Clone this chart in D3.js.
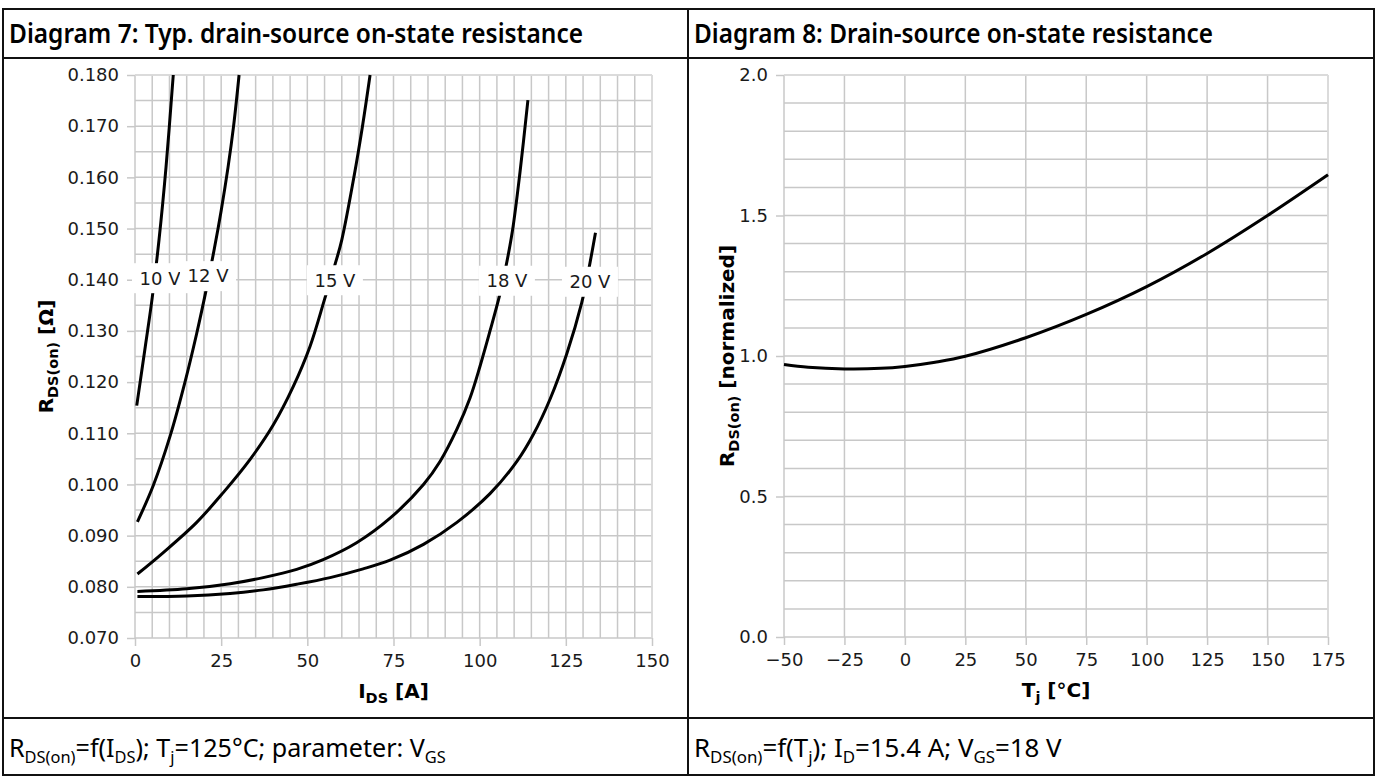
<!DOCTYPE html>
<html>
<head>
<meta charset="utf-8">
<script src="https://cdn.jsdelivr.net/npm/d3@7"></script>
<style>
  html, body { margin: 0; padding: 0; background: #fff; }
  svg { display: block; }
</style>
</head>
<body>
<svg id="chart" width="1377" height="776"></svg>
<script>
// Diagram 7: R_DS(on) vs I_DS at Tj = 125 °C, one curve per V_GS
const vgsLabels = ["10 V", "12 V", "15 V", "18 V", "20 V"];

const ids10 = [0.5, 3, 5, 7, 9, 11.1];
const rds10 = [0.1154, 0.1270, 0.1365, 0.1480, 0.1620, 0.180];

const ids12 = [0.7, 5.3, 10.2, 14.5, 17.9, 20.8, 23, 25, 27, 28.6, 30.2];
const rds12 = [0.0927, 0.0998, 0.1095, 0.1200, 0.1295, 0.1385, 0.1460, 0.1535, 0.1620, 0.1700, 0.180];

const ids15 = [0.7, 8.2, 17.9, 25.6, 33.4, 40.1, 45.9, 50.8, 55.1, 58, 60, 63.5, 66, 68.2];
const rds15 = [0.0825, 0.0867, 0.0926, 0.0984, 0.1049, 0.1116, 0.1191, 0.127, 0.1364, 0.1429, 0.1478, 0.160, 0.170, 0.180];

const ids18 = [0.7, 15, 27.6, 37.2, 46.9, 54.6, 64.3, 74, 83.7, 88.5, 93.4, 97.2, 100.1, 103, 105.8, 107.6, 109.5, 111.7, 114];
const rds18 = [0.0791, 0.0796, 0.0806, 0.0818, 0.0834, 0.0853, 0.0886, 0.0934, 0.1000, 0.1045, 0.1108, 0.1169, 0.1231, 0.1300, 0.1370, 0.1425, 0.1495, 0.1610, 0.1751];

const ids20 = [0.7, 15, 27.6, 37.2, 46.9, 56.6, 66.2, 74, 83.7, 93.4, 103, 110.8, 115.6, 120.5, 125.3, 129.6, 131.5, 133.6];
const rds20 = [0.0781, 0.0782, 0.0787, 0.0794, 0.0805, 0.0818, 0.0835, 0.0852, 0.0883, 0.0926, 0.0982, 0.1045, 0.1098, 0.1168, 0.1256, 0.1355, 0.1415, 0.1492];

// where the inline V_GS labels sit (data coords)
const labelI = [7.25, 21.2, 58.0, 107.9, 132.0];
const labelR = [0.1403, 0.1407, 0.1399, 0.1398, 0.1396];

const idsTicks = [0, 25, 50, 75, 100, 125, 150];
const rdsTicks = [0.07, 0.08, 0.09, 0.10, 0.11, 0.12, 0.13, 0.14, 0.15, 0.16, 0.17, 0.18];

// Diagram 8: normalized R_DS(on) vs Tj
const tjValues = [-50, -40, -25, -10, 0, 12.5, 25, 50, 75, 100, 125, 150, 175];
const rNorm = [0.970, 0.960, 0.954, 0.956, 0.963, 0.978, 0.999, 1.065, 1.148, 1.247, 1.365, 1.500, 1.645];

const tjTicks = [-50, -25, 0, 25, 50, 75, 100, 125, 150, 175];
const rNormTicks = [0, 0.5, 1.0, 1.5, 2.0];

const svg = d3.select("#chart");
const gridColor = "#c8c8c8";
const tickFont = "'DejaVu Sans', sans-serif";

// table frame
svg.append("rect")
    .attr("x", 3).attr("y", 9)
    .attr("width", 1371).attr("height", 766)
    .attr("fill", "none").attr("stroke", "#111").attr("stroke-width", 2);
[58, 718].forEach(y => {
    svg.append("line").attr("x1", 3).attr("x2", 1374).attr("y1", y).attr("y2", y)
        .attr("stroke", "#111").attr("stroke-width", 2);
});
svg.append("line").attr("x1", 688).attr("x2", 688).attr("y1", 9).attr("y2", 775)
    .attr("stroke", "#111").attr("stroke-width", 2);

// headers
function header(x, text, width) {
    svg.append("text")
        .attr("x", x).attr("y", 43)
        .attr("font-family", "'Noto Sans', sans-serif")
        .attr("font-weight", 600)
        .attr("font-size", 27)
        .attr("textLength", width)
        .attr("lengthAdjust", "spacingAndGlyphs")
        .text(text);
}
header(9, "Diagram 7: Typ. drain-source on-state resistance", 574);
header(694, "Diagram 8: Drain-source on-state resistance", 519);

// footers with subscripts, squeezed to the reference width
function footer(x, parts, width) {
    const g = svg.append("g");
    const t = g.append("text")
        .attr("x", 0).attr("y", 0)
        .attr("font-family", "'Noto Sans', sans-serif")
        .attr("font-size", 26);
    let sub = false;
    parts.forEach(p => {
        const isSub = p[1] === "sub";
        const ts = t.append("tspan").text(p[0]);
        if (isSub) ts.attr("font-size", 17);
        if (isSub && !sub) ts.attr("dy", 6);
        if (!isSub && sub) ts.attr("dy", -6);
        sub = isSub;
    });
    const w = t.node().getBBox().width;
    g.attr("transform", `translate(${x},757) scale(${width / w},1)`);
}
footer(9, [["R", ""], ["DS(on)", "sub"], ["=f(I", ""], ["DS", "sub"], ["); T", ""], ["j", "sub"],
    ["=125°C; parameter: V", ""], ["GS", "sub"]], 437);
footer(694, [["R", ""], ["DS(on)", "sub"], ["=f(T", ""], ["j", "sub"], ["); I", ""], ["D", "sub"],
    ["=15.4 A; V", ""], ["GS", "sub"], ["=18 V", ""]], 368);

function addParts(t, parts, subSize) {
    let sub = false;
    parts.forEach(p => {
        const isSub = p[1] === "sub";
        const ts = t.append("tspan").text(p[0]);
        if (isSub) ts.attr("font-size", subSize);
        if (isSub && !sub) ts.attr("dy", 5);
        if (!isSub && sub) ts.attr("dy", -5);
        sub = isSub;
    });
}

function drawPanel(p) {
    const g = svg.append("g");
    const x = p.x, y = p.y;
    const [x0, x1] = x.range();
    const [y0, y1] = y.range();

    // grid
    g.append("g").selectAll("line").data(p.xGrid).join("line")
        .attr("x1", d => x(d)).attr("x2", d => x(d))
        .attr("y1", y0).attr("y2", y1)
        .attr("stroke", gridColor).attr("stroke-width", 1.5);
    g.append("g").selectAll("line").data(p.yGrid).join("line")
        .attr("x1", x0).attr("x2", x1)
        .attr("y1", d => y(d)).attr("y2", d => y(d))
        .attr("stroke", gridColor).attr("stroke-width", 1.5);
    // light outer spines top/right
    g.append("line").attr("x1", x0).attr("x2", x1).attr("y1", y1).attr("y2", y1)
        .attr("stroke", "#dcdcdc").attr("stroke-width", 1.5);
    g.append("line").attr("x1", x1).attr("x2", x1).attr("y1", y0).attr("y2", y1)
        .attr("stroke", "#dcdcdc").attr("stroke-width", 1.5);

    // axes
    const ax = g.append("g").attr("transform", `translate(0,${y0})`)
        .call(d3.axisBottom(x).tickValues(p.xTicks).tickFormat(p.xFormat).tickSize(8).tickPadding(8));
    const ay = g.append("g").attr("transform", `translate(${x0},0)`)
        .call(d3.axisLeft(y).tickValues(p.yTicks).tickFormat(p.yFormat).tickSize(8).tickPadding(8));
    [ax, ay].forEach(a => {
        a.select(".domain").remove();
        a.selectAll(".tick line").attr("stroke", gridColor).attr("stroke-width", 1.5);
        a.selectAll(".tick text")
            .attr("font-family", tickFont).attr("font-size", 18).attr("fill", "#1a1a1a");
    });

    // axis titles
    const xt = g.append("text")
        .attr("x", (x0 + x1) / 2).attr("y", y0 + 60)
        .attr("text-anchor", "middle")
        .attr("font-family", tickFont).attr("font-weight", "bold").attr("font-size", 20);
    addParts(xt, p.xTitle, 14.5);
    const yt = g.append("text")
        .attr("transform", `translate(${p.yTitleX},${(y0 + y1) / 2}) rotate(-90)`)
        .attr("text-anchor", "middle")
        .attr("font-family", tickFont).attr("font-weight", "bold").attr("font-size", 20);
    addParts(yt, p.yTitle, 14.5);
    return g;
}

// ---------- Diagram 7 ----------
const xL = d3.scaleLinear().domain([0, 150]).range([135, 652]);
const yL = d3.scaleLinear().domain([0.07, 0.18]).range([638, 75]);

const left = drawPanel({
    x: xL, y: yL,
    xGrid: d3.range(0, 151, 5),
    yGrid: d3.range(0.07, 0.1801, 0.005),
    xTicks: idsTicks, yTicks: rdsTicks,
    xFormat: d3.format("d"), yFormat: d3.format(".3f"),
    xTitle: [["I", ""], ["DS", "sub"], [" [A]", ""]],
    yTitle: [["R", ""], ["DS(on)", "sub"], [" [Ω]", ""]],
    yTitleX: 53
});

const curves = [
    [ids10, rds10], [ids12, rds12], [ids15, rds15], [ids18, rds18], [ids20, rds20]
];
const lineL = d3.line().x(d => xL(d[0])).y(d => yL(d[1])).curve(d3.curveCatmullRom.alpha(0.5));
left.append("g").selectAll("path").data(curves).join("path")
    .attr("d", c => lineL(d3.zip(c[0], c[1])))
    .attr("fill", "none").attr("stroke", "#000").attr("stroke-width", 3);

const labels = left.append("g").selectAll("g").data(vgsLabels).join("g")
    .attr("transform", (d, i) => `translate(${xL(labelI[i])},${yL(labelR[i])})`);
labels.append("rect")
    .attr("x", -28).attr("y", -15).attr("width", 56).attr("height", 30)
    .attr("fill", "#fff");
labels.append("text")
    .attr("text-anchor", "middle").attr("dy", "0.35em")
    .attr("font-family", tickFont).attr("font-size", 18).attr("fill", "#1a1a1a")
    .text(d => d);

// ---------- Diagram 8 ----------
const xR = d3.scaleLinear().domain([-50, 175]).range([784, 1328]);
const yR = d3.scaleLinear().domain([0, 2]).range([637, 75]);

const right = drawPanel({
    x: xR, y: yR,
    xGrid: tjTicks,
    yGrid: d3.range(0, 2.001, 0.1),
    xTicks: tjTicks, yTicks: rNormTicks,
    xFormat: d3.format("d"), yFormat: d3.format(".1f"),
    xTitle: [["T", ""], ["j", "sub"], [" [°C]", ""]],
    yTitle: [["R", ""], ["DS(on)", "sub"], [" [normalized]", ""]],
    yTitleX: 734
});

const lineR = d3.line().x(d => xR(d[0])).y(d => yR(d[1])).curve(d3.curveCatmullRom.alpha(0.5));
right.append("path")
    .datum(d3.zip(tjValues, rNorm))
    .attr("d", lineR)
    .attr("fill", "none").attr("stroke", "#000").attr("stroke-width", 3);
</script>
</body>
</html>
